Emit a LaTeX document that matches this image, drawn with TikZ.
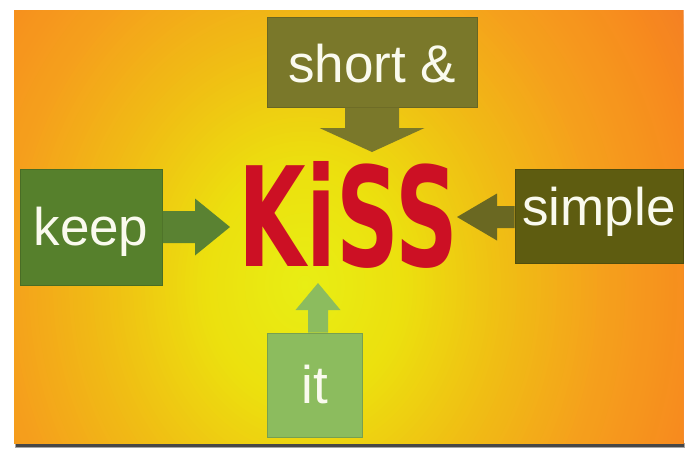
\documentclass[tikz,border=0pt]{standalone}
\usepackage{graphicx}
\usepackage{fontspec}
\setmainfont{Liberation Sans}
\newfontfamily\kissfont{DejaVu Sans}
\usetikzlibrary{calc}
\definecolor{bgA}{RGB}{232,238,20}
\definecolor{bgB}{RGB}{236,224,14}
\definecolor{bgC}{RGB}{240,190,20}
\definecolor{bgD}{RGB}{245,160,28}
\definecolor{bgE}{RGB}{247,138,30}
\definecolor{bgF}{RGB}{242,122,38}
\definecolor{shortc}{RGB}{122,120,42}
\definecolor{keepc}{RGB}{86,128,44}
\definecolor{simplec}{RGB}{94,92,16}
\definecolor{itc}{RGB}{140,188,94}
\definecolor{simplearr}{RGB}{106,104,34}
\definecolor{keeparr}{RGB}{90,130,50}
\definecolor{kissred}{RGB}{204,16,36}
\definecolor{txtc}{RGB}{250,250,238}
% #1 colour, #2 start, #3 tip, #4 half shaft, #5 half head, #6 head length
\newcommand\blockarrow[6]{%
  \coordinate (bab) at ($(#3)!#6!(#2)$);
  \fill[#1] ($(#2)!#4!90:(#3)$) -- ($(bab)!#4!90:(#3)$) -- ($(bab)!#5!90:(#3)$)
    -- (#3) -- ($(bab)!#5!-90:(#3)$) -- ($(bab)!#4!-90:(#3)$) -- ($(#2)!#4!-90:(#3)$) -- cycle;
}
\begin{document}
\begin{tikzpicture}[x=1pt,y=1pt,
  wordbox/.style={inner sep=0pt, line width=1pt, text=txtc,
    font=\fontsize{53}{60}\selectfont}]
\useasboundingbox (0,0) rectangle (687,-448);
\fill[white] (0,0) rectangle (687,-448);
% shadow
\fill[black!35] (15,-443) rectangle (685,-448);
\fill[black!72] (16,-440) rectangle (684,-446.5);
% panel: radial gradient drawn as concentric ellipses
\begin{scope}
  \clip (14,-10) rectangle (683,-443);
  \fill[bgF] (14,-10) rectangle (683,-443);
  \foreach \r in {472,468,...,4}{
    \pgfmathtruncatemacro\seg{min(4,floor(\r/100))}
    \pgfmathtruncatemacro\pc{min(100,(\r-100*\seg)/ifthenelse(\seg==4,70,100)*100)}
    \ifcase\seg
      \colorlet{glo}{bgA}\colorlet{ghi}{bgB}%
    \or
      \colorlet{glo}{bgB}\colorlet{ghi}{bgC}%
    \or
      \colorlet{glo}{bgC}\colorlet{ghi}{bgD}%
    \or
      \colorlet{glo}{bgD}\colorlet{ghi}{bgE}%
    \else
      \colorlet{glo}{bgE}\colorlet{ghi}{bgF}%
    \fi
    \fill[ghi!\pc!glo] (305,-285) ellipse ({\r} and {1.2*\r});
  }
\end{scope}
% boxes
\node[wordbox, fill=shortc, draw=shortc!85!black, minimum width=210pt, minimum height=90pt,
  text height=40pt, text depth=0pt] (short) at (372,-62) {short \&};
\node[wordbox, fill=keepc, draw=keepc!85!black, minimum width=142pt, minimum height=116pt,
  text height=38pt, text depth=2pt] (keep) at (91,-227) {keep};
\node[wordbox, fill=simplec, draw=simplec!85!black, minimum width=168pt, minimum height=94pt,
  text height=38pt, text depth=20pt] (simple) at (599,-216) {simple};
\node[wordbox, fill=itc, draw=itc!85!black, minimum width=95pt, minimum height=104pt,
  text height=38pt, text depth=2pt] (it) at (314.5,-385) {it};
% centre word
\node[inner sep=0pt, text=kissred] (kiss) at (348.5,-214.5)
  {\resizebox{219pt}{105pt}{\kissfont\bfseries KiSS}};
% arrow tips
\coordinate (tipS) at (372,-152);
\coordinate (tipK) at (230,-227);
\coordinate (tipR) at (457,-217);
\coordinate (tipI) at (318,-283);
\coordinate (sS) at (short.south -| tipS);
\coordinate (sK) at (keep.east |- tipK);
\coordinate (sR) at (simple.west |- tipR);
\coordinate (sI) at (it.north -| tipI);
\blockarrow{shortc}{sS}{tipS}{27pt}{52.5pt}{24pt}
\blockarrow{keeparr}{sK}{tipK}{16pt}{28.5pt}{35pt}
\blockarrow{simplearr}{sR}{tipR}{11pt}{23.5pt}{40pt}
\blockarrow{itc}{sI}{tipI}{10pt}{22.5pt}{27pt}
\end{tikzpicture}
\end{document}
